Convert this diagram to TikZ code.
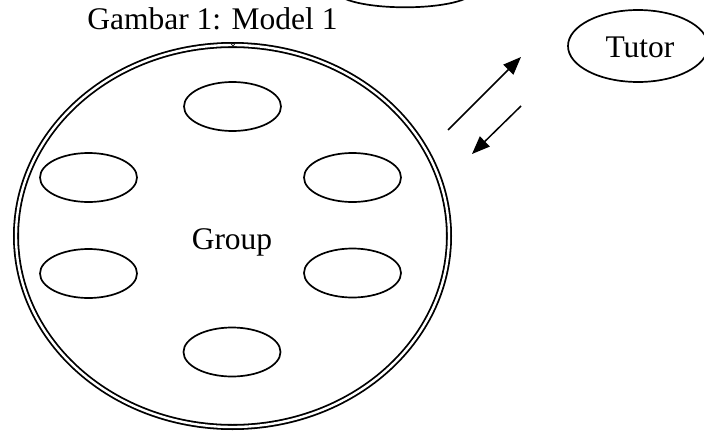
\documentclass[tikz,border=0pt]{standalone}
\usepackage{fontspec}
\setmainfont{Liberation Serif}
\usetikzlibrary{shapes.geometric,arrows.meta}
\begin{document}
\begin{tikzpicture}[x=1pt,y=-1pt,
  member/.style={draw,ellipse,line width=1.7pt,minimum width=97pt,minimum height=49pt,inner sep=0pt},
  bigring/.style={draw,ellipse,double,double distance=2.4pt,line width=1.8pt,minimum width=433pt,minimum height=382pt,inner sep=0pt},
  lbl/.style={font=\fontsize{31.5}{36}\selectfont,inner sep=0pt,anchor=base},
  flow/.style={line width=1.5pt,-{Triangle[length=18pt,width=14pt]}}]
\useasboundingbox (0,0) rectangle (704,431);
\clip (0,0) rectangle (704,431);
\fill[white] (0,0) rectangle (704,431);
% big double ring
\node[bigring] (ring) at (232.5,236) {};
% tiny mark at top of ring
\node[draw,circle,line width=0.6pt,minimum size=3pt,inner sep=0pt] (mark) at (233,44.5) {};
% members
\node[member] (m1) at (232.5,106.5) {};
\node[member] (m2) at (88.5,177.5) {};
\node[member] (m3) at (352.5,177.5) {};
\node[member] (m4) at (88.5,273.5) {};
\node[member] (m5) at (352.5,273) {};
\node[member] (m6) at (232,352) {};
% partially visible top ellipse
\node[draw,ellipse,line width=1.7pt,minimum width=136pt,minimum height=32pt,inner sep=0pt] (topell) at (405,-8.7) {};
% tutor
\node[draw,ellipse,line width=1.7pt,minimum width=140pt,minimum height=72pt,inner sep=0pt] (tutor) at (638,46) {};
\node[lbl] (tutortext) at (640,57) {Tutor};
% labels
\node[lbl] (title) at (212.5,29) {Gambar 1: Model 1};
\node[lbl] (grouptext) at (232,249) {Group};
% arrows
\coordinate (a1s) at (448,130);
\coordinate (a1e) at (521,57);
\coordinate (a2s) at (521,106);
\coordinate (a2e) at (472,154);
\draw[flow] (a1s) -- (a1e);
\draw[flow] (a2s) -- (a2e);
\end{tikzpicture}
\end{document}
